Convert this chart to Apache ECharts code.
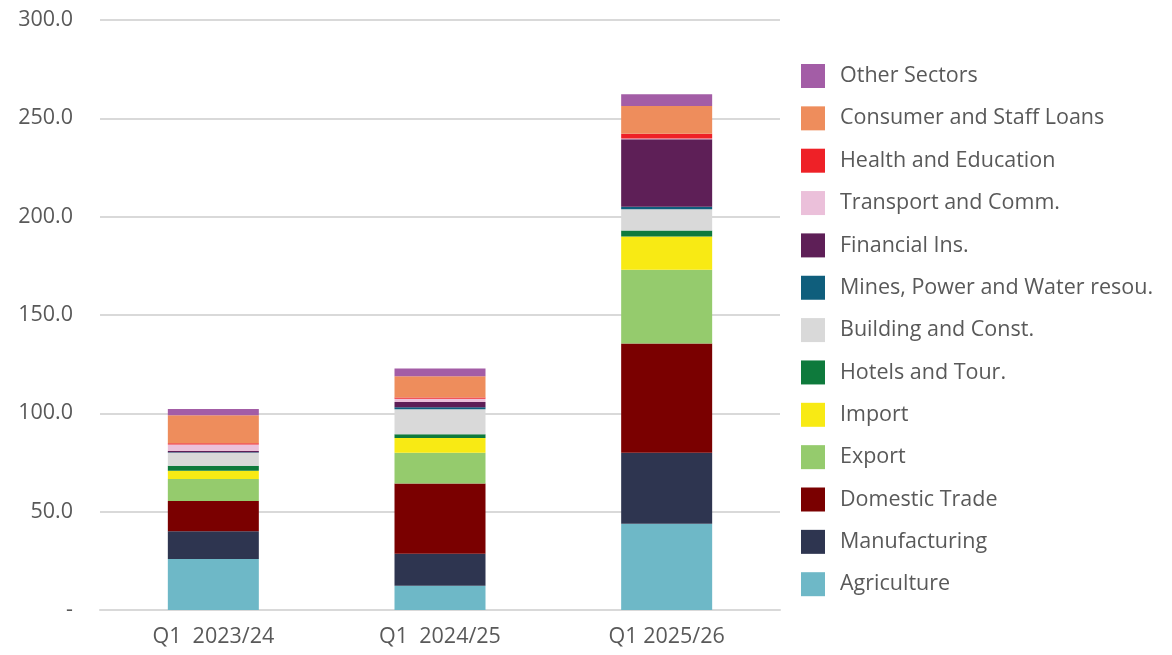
<!DOCTYPE html>
<html>
<head>
<meta charset="utf-8">
<script src="https://cdn.jsdelivr.net/npm/echarts@6/dist/echarts.min.js"></script>
<style>
  html, body { margin: 0; padding: 0; background: #fff; }
  #chart { width: 1172px; height: 655px; }
</style>
</head>
<body>
<div id="chart"></div>
<script>
// Quarters on the x axis
const categories = ['Q1  2023/24', 'Q1  2024/25', 'Q1 2025/26'];

// Sector values, stacked bottom to top
const agriculture   = [25.9, 12.3, 43.8];
const manufacturing = [14.1, 16.3, 36.1];
const domesticTrade = [15.4, 35.7, 55.6];
const exportVals    = [11.2, 15.7, 37.5];
const importVals    = [4.2, 7.4, 16.9];
const hotels        = [2.6, 2.0, 3.1];
const building      = [6.6, 12.7, 10.8];
const mines         = [0.2, 1.0, 1.2];
const financial     = [0.6, 2.6, 34.4];
const transport     = [3.3, 1.7, 0.3];
const health        = [0.7, 0.6, 2.4];
const consumer      = [14.2, 10.9, 14.2];
const otherSectors  = [3.2, 3.9, 6.0];

const yTicks = [0, 50, 100, 150, 200, 250, 300];

const seriesDefs = [
  ['Agriculture', agriculture, '#6EB8C7'],
  ['Manufacturing', manufacturing, '#2E3550'],
  ['Domestic Trade', domesticTrade, '#7A0000'],
  ['Export', exportVals, '#95CB6D'],
  ['Import', importVals, '#F8EA14'],
  ['Hotels and Tour.', hotels, '#0E7A3C'],
  ['Building and Const.', building, '#D9D9D9'],
  ['Mines, Power and Water resou.', mines, '#0F5E7C'],
  ['Financial Ins.', financial, '#5E1F57'],
  ['Transport and Comm.', transport, '#EBC0DA'],
  ['Health and Education', health, '#EE2127'],
  ['Consumer and Staff Loans', consumer, '#EE8D5C'],
  ['Other Sectors', otherSectors, '#A35DA6']
];

const FONT = '"Open Sans", Lato, sans-serif';
const TEXT = '#595959';

const chart = echarts.init(document.getElementById('chart'), null, { renderer: 'canvas' });
chart.setOption({
  animation: false,
  backgroundColor: '#ffffff',
  grid: { left: 100, right: 392, top: 20, bottom: 45, containLabel: false },
  legend: {
    orient: 'vertical',
    left: 796,
    top: 59,
    itemWidth: 24,
    itemHeight: 24,
    itemGap: 18.35,
    icon: 'rect',
    textStyle: { color: TEXT, fontSize: 21.5, fontFamily: FONT, padding: [0, 0, 0, 10] },
    data: seriesDefs.map(d => d[0]).reverse()
  },
  xAxis: {
    type: 'category',
    data: categories,
    axisLine: { show: true, lineStyle: { color: '#d9d9d9', width: 2 } },
    axisTick: { show: false },
    axisLabel: { color: TEXT, fontSize: 21.5, fontFamily: FONT, margin: 16 }
  },
  yAxis: {
    type: 'value',
    min: yTicks[0],
    max: yTicks[yTicks.length - 1],
    interval: 50,
    axisLine: { show: false },
    axisTick: { show: false },
    splitLine: { lineStyle: { color: '#d9d9d9', width: 2 } },
    axisLabel: {
      color: TEXT, fontSize: 21.5, fontFamily: FONT, margin: 27,
      formatter: v => (v === 0 ? '-' : v.toFixed(1))
    }
  },
  series: seriesDefs.map(([name, data, color]) => ({
    name,
    type: 'bar',
    stack: 'total',
    data,
    barWidth: 91,
    itemStyle: { color },
    emphasis: { disabled: true }
  }))
});
</script>
</body>
</html>
